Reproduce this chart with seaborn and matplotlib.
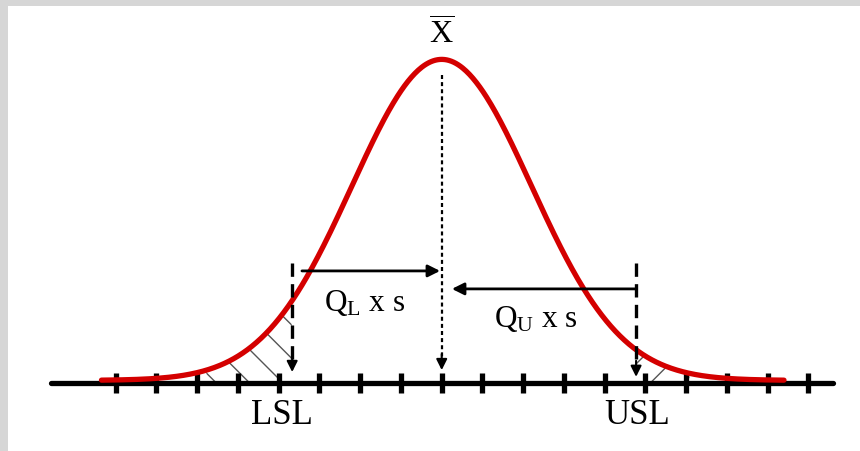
import numpy as np
import pandas as pd
import matplotlib
matplotlib.use('Agg')
import matplotlib.pyplot as plt
from matplotlib.patches import Rectangle
import seaborn as sns

# values (x in tick units, centre = 0)
x_bar = 0.0
s = 2.2
tick_pos = np.arange(-8, 10)
lsl = -3.67
usl = 4.77
curve_range = (-8.35, 8.4)
axis_range = (-9.6, 9.6)
hatch_left = (-5.8, lsl)
hatch_right = (usl, 6.1)
labels = {'lsl': 'LSL', 'usl': 'USL', 'mean': r'$\overline{\mathrm{X}}$',
          'ql': r'$\mathrm{Q_L}$ x s', 'qu': r'$\mathrm{Q_U}$ x s'}

sns.set_theme(style='white')
plt.rcParams['font.family'] = ['Liberation Serif', 'DejaVu Serif']
plt.rcParams['mathtext.fontset'] = 'custom'
plt.rcParams['mathtext.rm'] = 'Liberation Serif'
plt.rcParams['hatch.linewidth'] = 1.0
plt.rcParams['text.color'] = 'black'

xs = np.linspace(curve_range[0], curve_range[1], 600)
df = pd.DataFrame({'x': xs, 'y': np.exp(-0.5 * ((xs - x_bar) / s) ** 2) + 0.008})

fig = plt.figure(figsize=(8.6, 4.51), dpi=100, facecolor='#d6d6d6')
fig.patches.append(Rectangle((8 / 860, 0), 1, 1 - 6 / 451, transform=fig.transFigure,
                             facecolor='white', edgecolor='none', zorder=-5))
ax = fig.add_axes([0, 0, 1, 1])
ax.set_zorder(2)
ax.set_facecolor('none')

# axis line with ticks
ax.plot(axis_range, [0, 0], color='black', lw=3.8, solid_capstyle='round', zorder=2)
ax.plot(tick_pos, np.zeros_like(tick_pos), marker='|', ms=14, mew=3.8,
        linestyle='none', color='black', zorder=2)

# hatched tails
for lo, hi, h in [(hatch_left[0], hatch_left[1], '\\'), (hatch_right[0], hatch_right[1], '/')]:
    m = (df.x >= lo) & (df.x <= hi)
    ax.fill_between(df.x[m], 0, df.y[m], facecolor='none', edgecolor='#555555',
                    hatch=h, lw=0, zorder=1)

sns.lineplot(data=df, x='x', y='y', color='#d40000', lw=3.8, ax=ax, zorder=3)

# centre dotted line with arrow head
ax.plot([x_bar, x_bar], [0.96, 0.07], color='black', lw=1.6, linestyle=(0, (1.8, 1.4)), zorder=4)
ax.annotate('', xy=(x_bar, 0.04), xytext=(x_bar, 0.09),
            arrowprops=dict(arrowstyle='-|>', color='black', lw=1.5,
                            mutation_scale=16, shrinkA=0, shrinkB=0), zorder=4)

# spec limit dashed lines with arrow heads
for xv, tip in [(lsl, 0.034), (usl, 0.019)]:
    ax.plot([xv, xv], [0.374, tip + 0.03], color='black', lw=2.4,
            linestyle=(0, (4, 2.2)), zorder=4)
    ax.annotate('', xy=(xv, tip), xytext=(xv, tip + 0.05),
                arrowprops=dict(arrowstyle='-|>', color='black', lw=1.5,
                                mutation_scale=16, shrinkA=0, shrinkB=0), zorder=4)

# Q arrows
ax.annotate('', xy=(-0.04, 0.349), xytext=(-3.43, 0.349),
            arrowprops=dict(arrowstyle='-|>', color='black', lw=2.0,
                            mutation_scale=18, shrinkA=0, shrinkB=0), zorder=4)
ax.annotate('', xy=(0.25, 0.293), xytext=(usl, 0.293),
            arrowprops=dict(arrowstyle='-|>', color='black', lw=2.0,
                            mutation_scale=18, shrinkA=0, shrinkB=0), zorder=4)

ax.text(-1.9, 0.25, labels['ql'], fontsize=22.5, ha='center', va='center')
ax.text(2.3, 0.20, labels['qu'], fontsize=22.5, ha='center', va='center')
ax.text(-3.92, -0.10, labels['lsl'], fontsize=25, ha='center', va='center')
ax.text(4.79, -0.10, labels['usl'], fontsize=25, ha='center', va='center')
ax.text(x_bar, 1.085, labels['mean'], fontsize=23, ha='center', va='center')

ax.set_xlim(-10.84, 10.265)
ax.set_ylim(-0.212, 1.193)
ax.set_xlabel('')
ax.set_ylabel('')
ax.axis('off')

fig.savefig('out.png', dpi=100, facecolor=fig.get_facecolor())
